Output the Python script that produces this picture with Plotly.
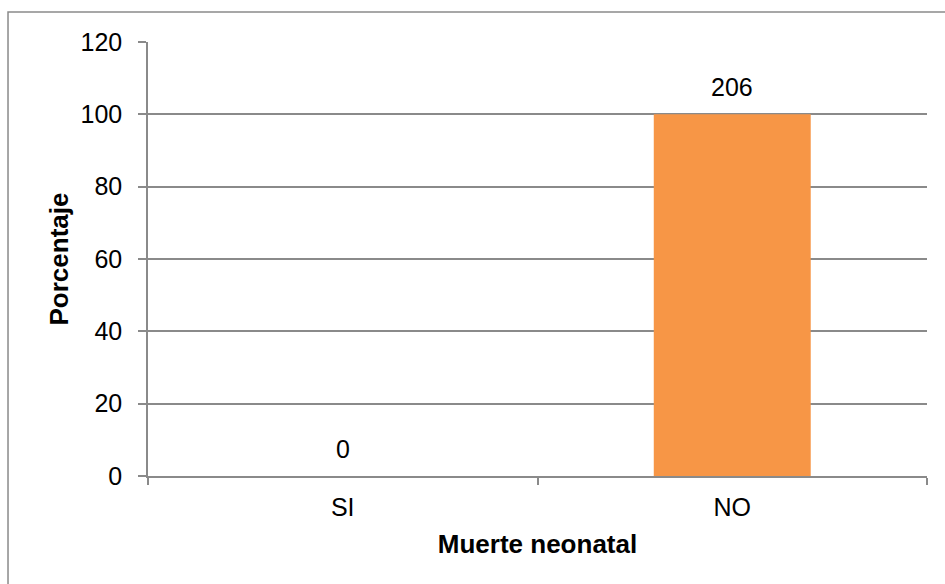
import plotly.graph_objects as go

# Muerte neonatal: percentage per category, with the case counts shown above the bars
categories = ["SI", "NO"]
percentages = [0, 100]
counts = [0, 206]
y_ticks = [0, 20, 40, 60, 80, 100, 120]

GRAY = "#8a8a8a"
FONT = "Liberation Sans, Arial, sans-serif"

fig = go.Figure()
fig.add_trace(go.Bar(
    x=categories,
    y=percentages,
    marker=dict(color="#F79646", line=dict(width=0)),
    width=0.403,
    hoverinfo="skip",
))

for cat, pct, n in zip(categories, percentages, counts):
    fig.add_annotation(
        x=cat, y=pct, text=str(n), showarrow=False,
        yanchor="bottom", yshift=11,
        font=dict(family=FONT, size=25, color="#000000"),
    )

# outer chart border
fig.add_shape(
    type="rect", xref="paper", yref="paper",
    x0=-0.1797, x1=1.2, y0=-0.4, y1=1.069,
    line=dict(color=GRAY, width=1.5), fillcolor="rgba(0,0,0,0)", layer="below",
)

fig.update_layout(
    width=945, height=584,
    margin=dict(l=148, r=18, t=42, b=108),
    paper_bgcolor="white", plot_bgcolor="white",
    showlegend=False,
    font=dict(family=FONT, color="#000000"),
    xaxis=dict(
        type="category",
        tickson="boundaries",
        ticks="outside", ticklen=7, tickcolor=GRAY, tickwidth=1.5,
        showline=True, linecolor=GRAY, linewidth=1.5,
        showgrid=False,
        tickfont=dict(family=FONT, size=25, color="#000000"),
        ticklabelstandoff=8,
        title=dict(text="<b>Muerte neonatal</b>", font=dict(family=FONT, size=26, color="#000000"),
                   standoff=15),
    ),
    yaxis=dict(
        range=[0, 120],
        tickvals=y_ticks,
        ticks="outside", ticklen=8, tickcolor=GRAY, tickwidth=1.5,
        showline=True, linecolor=GRAY, linewidth=1.5,
        showgrid=True, gridcolor=GRAY, gridwidth=1.5,
        zeroline=False,
        tickfont=dict(family=FONT, size=25, color="#000000"),
        ticklabelstandoff=11,
        title=dict(text="<b>Porcentaje</b>", font=dict(family=FONT, size=26, color="#000000"),
                   standoff=4),
    ),
)

fig.write_html("out.html")
